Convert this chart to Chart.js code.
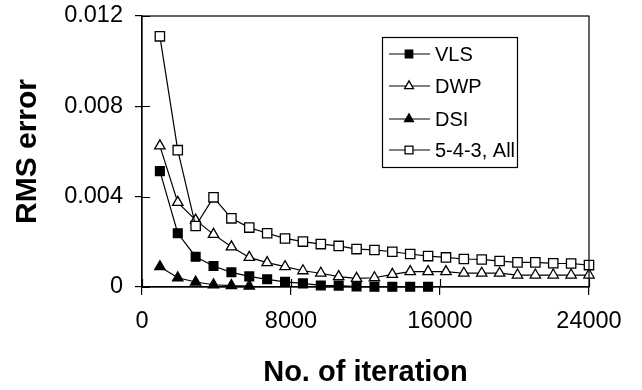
<!DOCTYPE html>
<html>
<head>
<meta charset="utf-8">
<script src="https://cdn.jsdelivr.net/npm/chart.js@4/dist/chart.umd.min.js"></script>
<style>
  html, body { margin: 0; padding: 0; background: #ffffff; }
  #wrap { width: 642px; height: 390px; position: relative; }
</style>
</head>
<body>
<div id="wrap"><canvas id="c" width="642" height="390"></canvas></div>
<script>
// ---- data ----
const iterations = [960, 1920, 2880, 3840, 4800, 5760, 6720, 7680, 8640, 9600, 10560, 11520, 12480,
  13440, 14400, 15360, 16320, 17280, 18240, 19200, 20160, 21120, 22080, 23040, 24000];

const seriesNames = ['VLS', 'DWP', 'DSI', '5-4-3, All'];

const vlsValues = [0.00513, 0.00238, 0.00134, 0.00093, 0.00065, 0.00047, 0.00034, 0.00023,
  0.00016, 0.00007, 0.00006, 0.00002, 0.00001, 0.00001, 0.00001, 0.00001];

const dwpValues = [0.00625, 0.00375, 0.00296, 0.00233, 0.00178, 0.00131, 0.00108, 0.00090,
  0.00072, 0.00061, 0.00046, 0.00038, 0.00041, 0.00056, 0.00068, 0.00068, 0.00068, 0.00061,
  0.00061, 0.00061, 0.00053, 0.00053, 0.00053, 0.00053, 0.00053];

const dsiValues = [0.00090, 0.00041, 0.00022, 0.00010, 0.00006, 0.00004];

const allValues = [0.01110, 0.00606, 0.00270, 0.00397, 0.00304, 0.00263, 0.00238, 0.00215,
  0.00201, 0.00190, 0.00182, 0.00168, 0.00164, 0.00156, 0.00146, 0.00137, 0.00131, 0.00124,
  0.00122, 0.00115, 0.00109, 0.00109, 0.00105, 0.00104, 0.00097];

const xTickLabels = ['0', '8000', '16000', '24000'];
const yTickLabels = ['0', '0.004', '0.008', '0.012'];

const xTitle = 'No. of iteration';
const yTitle = 'RMS error';

// ---- build datasets ----
function toPoints(values) {
  return values.map((v, i) => ({ x: iterations[i], y: v }));
}

const markerDefs = [
  { style: 'rect', fill: '#000000', radius: 6.2 },
  { style: 'triangle', fill: '#ffffff', radius: 6.0 },
  { style: 'triangle', fill: '#000000', radius: 6.0 },
  { style: 'rect', fill: '#ffffff', radius: 6.6 }
];
const seriesValues = [vlsValues, dwpValues, dsiValues, allValues];

const datasets = seriesValues.map((vals, i) => ({
  label: seriesNames[i],
  data: toPoints(vals),
  borderColor: '#000000',
  borderWidth: 1.2,
  pointStyle: markerDefs[i].style,
  pointRadius: markerDefs[i].radius,
  pointBackgroundColor: markerDefs[i].fill,
  pointBorderColor: '#000000',
  pointBorderWidth: 1.3,
  tension: 0,
  fill: false,
  clip: false,
  order: 4 - i
}));

const FONT = "'Liberation Sans', Arial, sans-serif";

// plot frame, inner tick halves and custom legend
const framePlugin = {
  id: 'frame',
  afterDraw(chart) {
    const ctx = chart.ctx;
    const a = chart.chartArea;
    ctx.save();
    ctx.strokeStyle = '#000000';
    ctx.lineWidth = 1.2;
    ctx.strokeRect(a.left, a.top, a.right - a.left, a.bottom - a.top);
    // inner halves of the cross ticks
    const xs = chart.scales.x, ys = chart.scales.y;
    ctx.beginPath();
    xs.ticks.forEach(t => {
      const px = Math.round(xs.getPixelForValue(t.value)) + 0.5;
      ctx.moveTo(px, a.bottom);
      ctx.lineTo(px, a.bottom - 8);
    });
    ys.ticks.forEach(t => {
      const py = Math.round(ys.getPixelForValue(t.value)) + 0.5;
      ctx.moveTo(a.left, py);
      ctx.lineTo(a.left + 8, py);
    });
    ctx.stroke();

    // legend
    const box = { left: 382, top: 37, right: 517, bottom: 167 };
    ctx.lineWidth = 1.2;
    ctx.fillStyle = '#ffffff';
    ctx.fillRect(box.left, box.top, box.right - box.left, box.bottom - box.top);
    ctx.strokeRect(box.left + 0.5, box.top + 0.5, box.right - box.left, box.bottom - box.top);
    const rowY = [54, 86, 119, 150];
    chart.data.datasets.forEach((ds, i) => {
      const y = rowY[i];
      ctx.beginPath();
      ctx.strokeStyle = '#000000';
      ctx.lineWidth = 1.2;
      ctx.moveTo(389, y);
      ctx.lineTo(430, y);
      ctx.stroke();
      ctx.fillStyle = ds.pointBackgroundColor;
      ctx.strokeStyle = '#000000';
      ctx.lineWidth = 1.3;
      Chart.helpers.drawPoint(ctx, {
        pointStyle: ds.pointStyle,
        radius: ds.pointRadius * 0.85,
        rotation: 0,
        borderWidth: 1.3
      }, 409, y);
      ctx.fillStyle = '#000000';
      ctx.font = '20px ' + FONT;
      ctx.textBaseline = 'middle';
      ctx.textAlign = 'left';
      ctx.fillText(ds.label, 435, y + 1);
    });
    ctx.restore();
  }
};

new Chart(document.getElementById('c'), {
  type: 'line',
  data: { datasets },
  options: {
    responsive: false,
    animation: false,
    events: [],
    layout: { padding: { left: 0, top: 16, right: 53, bottom: 0 } },
    plugins: { legend: { display: false }, tooltip: { enabled: false } },
    scales: {
      x: {
        type: 'linear',
        min: 0,
        max: 24000,
        afterFit(scale) { scale.height = 103; scale.paddingLeft = 0; scale.paddingRight = 0; },
        afterBuildTicks(scale) {
          scale.ticks = xTickLabels.map(s => ({ value: Number(s) }));
        },
        ticks: {
          stepSize: 8000,
          color: '#000000',
          font: { family: FONT, size: 23.5 },
          padding: 12,
          maxRotation: 0,
          callback: (v, i) => xTickLabels[i]
        },
        grid: { drawOnChartArea: false, tickLength: 8, color: '#000000', lineWidth: 1.2 },
        border: { color: '#000000', width: 1.2 },
        title: {
          display: true,
          text: xTitle,
          color: '#000000',
          font: { family: FONT, size: 29, weight: 'bold' },
          padding: { top: 0, bottom: 0 }
        }
      },
      y: {
        type: 'linear',
        min: 0,
        max: 0.012,
        afterFit(scale) { scale.width = 142; scale.paddingTop = 0; scale.paddingBottom = 0; },
        afterBuildTicks(scale) {
          scale.ticks = yTickLabels.map(s => ({ value: Number(s) }));
        },
        ticks: {
          stepSize: 0.004,
          color: '#000000',
          font: { family: FONT, size: 23.5 },
          padding: 12,
          callback: (v, i) => yTickLabels[i]
        },
        grid: { drawOnChartArea: false, tickLength: 7, color: '#000000', lineWidth: 1.2 },
        border: { color: '#000000', width: 1.2 },
        title: {
          display: true,
          text: yTitle,
          color: '#000000',
          font: { family: FONT, size: 30, weight: 'bold' },
          padding: { top: 10, bottom: 0 }
        }
      }
    }
  },
  plugins: [framePlugin]
});
</script>
</body>
</html>
